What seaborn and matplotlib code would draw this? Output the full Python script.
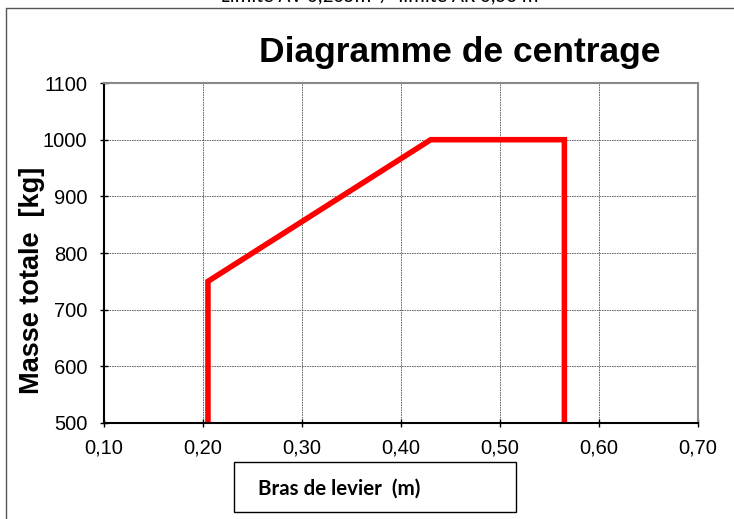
import matplotlib
matplotlib.use('Agg')
import matplotlib.pyplot as plt
import seaborn as sns
import numpy as np
from matplotlib.lines import Line2D
from matplotlib.patches import Rectangle
from matplotlib.ticker import FuncFormatter

# Envelope of the centring diagram (lever arm in m, total mass in kg)
bras = [0.205, 0.205, 0.43, 0.565, 0.565]
masse = [500, 750, 1000, 1000, 500]

x_ticks = [0.10, 0.20, 0.30, 0.40, 0.50, 0.60, 0.70]
y_ticks = [500, 600, 700, 800, 900, 1000, 1100]

sns.set_style('white')
plt.rcParams['font.family'] = ['Liberation Sans', 'DejaVu Sans']
plt.rcParams['text.color'] = 'black'
plt.rcParams['axes.labelcolor'] = 'black'

fig = plt.figure(figsize=(7.34, 5.19), dpi=100)
ax = fig.add_axes([0.1417, 0.185, 0.8093, 0.655])

sns.lineplot(x=bras, y=masse, sort=False, estimator=None, color='#ff0000',
             linewidth=4, ax=ax, solid_joinstyle='miter')

ax.set_xlim(x_ticks[0], x_ticks[-1])
ax.set_ylim(y_ticks[0], y_ticks[-1])
ax.set_xticks(x_ticks)
ax.set_yticks(y_ticks)
ax.xaxis.set_major_formatter(FuncFormatter(lambda v, p: f"{v:.2f}".replace('.', ',')))
ax.tick_params(axis='both', labelsize=14.5, colors='black', length=6, width=1,
               direction='inout', left=True, bottom=True)
ax.tick_params(axis='y', pad=9)
ax.tick_params(axis='x', pad=8)
ax.grid(True, linestyle=(0, (2, 1)), color='#555555', linewidth=0.6)

for s in ['left', 'bottom']:
    ax.spines[s].set_color('black')
    ax.spines[s].set_linewidth(1.5)
for s in ['top', 'right']:
    ax.spines[s].set_color('#888888')
    ax.spines[s].set_linewidth(1.5)

ax.set_ylabel('')
ax.set_xlabel('')
fig.text(0.043, 0.46, 'Masse totale  [kg]', fontsize=19.5, fontweight='bold',
         rotation=90, ha='center', va='center')

fig.text(0.626, 0.8805, 'Diagramme de centrage', fontsize=25.5, fontweight='bold',
         ha='center', va='baseline')

# cut-off note above the frame
fig.text(0.518, 0.992, 'Limite AV 0,205m  /  limite AR 0,56 m', fontsize=15,
         ha='center', va='bottom', family=['Carlito', 'Lato', 'DejaVu Sans'])

# frame lines
fig.add_artist(Line2D([0.0082, 0.0082], [0.0, 0.9846], color='#555555', lw=1))
fig.add_artist(Line2D([0.0082, 1.0], [0.9846, 0.9846], color='#555555', lw=1))

# x label box
fig.add_artist(Rectangle((0.319, 0.0135), 0.384, 0.0963, transform=fig.transFigure,
                         fill=False, edgecolor='black', lw=1))
fig.text(0.352, 0.059, 'Bras de levier  (m)', fontsize=14.8, fontweight='bold',
         ha='left', va='center', family=['Lato', 'DejaVu Sans'])

fig.savefig('out.png', dpi=100)
